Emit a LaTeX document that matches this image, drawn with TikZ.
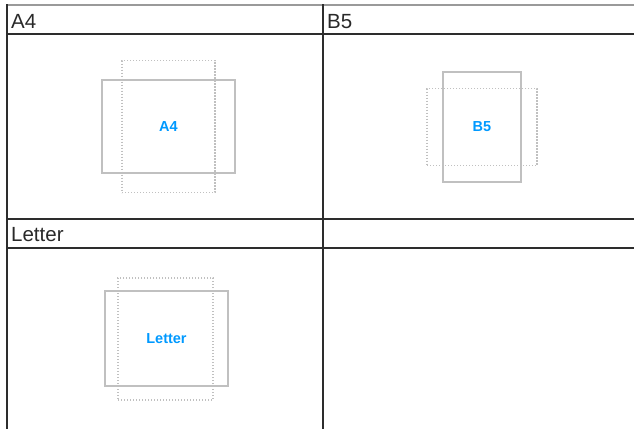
\documentclass[tikz,border=0pt]{standalone}
\usepackage{fontspec}
\setmainfont{Liberation Sans}
\definecolor{grid}{RGB}{45, 45, 45}
\definecolor{paper}{RGB}{192, 192, 192}
\definecolor{label}{RGB}{0, 153, 255}
\usetikzlibrary{positioning}

\begin{document}
\begin{tikzpicture}[x=1pt, y=-1pt,
        rule/.style={draw=grid, line width=2pt},
        toprule/.style={draw=paper!80!black, line width=1.2pt},
        head/.style={anchor=base west, inner sep=0pt, font=\fontsize{20.5}{22}\selectfont, text=grid!90!black},
        sheet/.style={draw=paper, line width=1.3pt, inner sep=0pt, text=label, font=\fontsize{14.5}{16}\selectfont\bfseries},
        feed/.style={draw=paper, line width=1.1pt, dash pattern=on 1.4pt off 1.6pt, inner sep=0pt}
    ]
        \useasboundingbox (0,0) rectangle (634,429);
        % grid of the table
        \draw[toprule] (7,5) -- (634,5);
        \draw[rule] (7,34) -- (634,34);
        \draw[rule] (7,218.5) -- (634,218.5);
        \draw[rule] (7,248) -- (634,248);
        \draw[rule] (7,4) -- (7,429);
        \draw[rule] (323,4) -- (323,429);
        % headers
        \node[head] (hA) at (11,28.5) {A4};
        \node[head] (hB) at (327,28.5) {B5};
        \node[head] (hL) at (11,241) {Letter};
        % A4
        \node[sheet, minimum width=133pt, minimum height=93pt] (a4) at (168.5,126.5) {A4};
        \node[feed, minimum width=93pt, minimum height=132pt] (a4f) at (a4.center) {};
        % B5
        \node[sheet, minimum width=78pt, minimum height=110pt] (b5) at (482,127) {B5};
        \node[feed, minimum width=110pt, minimum height=77pt] (b5f) at (b5.center) {};
        % Letter
        \node[sheet, minimum width=123pt, minimum height=95pt] (lt) at (166.5,338.5) {Letter};
        \node[feed, minimum width=95pt, minimum height=122pt] (ltf) at (165.5,339) {};
    \end{tikzpicture}
\end{document}
